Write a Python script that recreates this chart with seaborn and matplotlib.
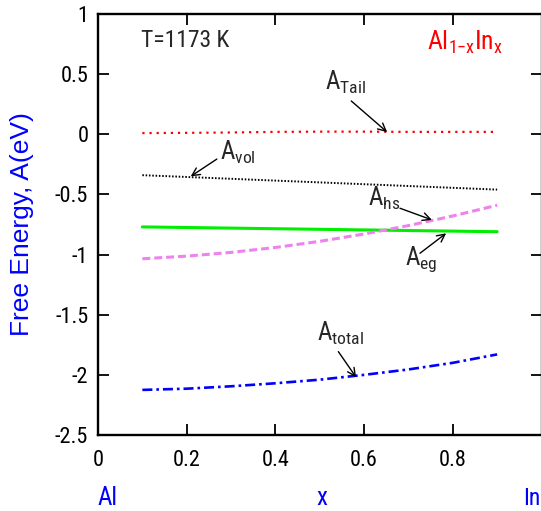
import matplotlib
matplotlib.use("Agg")
import matplotlib.pyplot as plt
import seaborn as sns
import numpy as np
import pandas as pd

# ---- data ----
x = [0.1, 0.2, 0.3, 0.4, 0.5, 0.6, 0.7, 0.8, 0.9]
a_tail = [0.010, 0.012, 0.015, 0.020, 0.022, 0.022, 0.020, 0.020, 0.020]
a_vol = [-0.340, -0.355, -0.370, -0.385, -0.400, -0.415, -0.430, -0.445, -0.460]
a_eg = [-0.770, -0.775, -0.780, -0.785, -0.790, -0.795, -0.800, -0.805, -0.810]
a_hs = [-1.035, -1.013, -0.982, -0.941, -0.890, -0.829, -0.759, -0.679, -0.590]
a_total = [-2.125, -2.115, -2.095, -2.070, -2.040, -2.000, -1.955, -1.900, -1.830]
xticks = [0, 0.2, 0.4, 0.6, 0.8]
xticklabels = ["0", "0.2", "0.4", "0.6", "0.8"]
yticks = [1, 0.5, 0, -0.5, -1, -1.5, -2, -2.5]
yticklabels = ["1", "0.5", "0", "-0.5", "-1", "-1.5", "-2", "-2.5"]

sns.set_theme(style="ticks")
NARROW = ["Roboto Condensed", "Liberation Sans", "DejaVu Sans"]
plt.rcParams["font.family"] = NARROW
plt.rcParams["axes.unicode_minus"] = False
plt.rcParams["mathtext.fontset"] = "custom"
plt.rcParams["mathtext.rm"] = "Roboto Condensed"
plt.rcParams["mathtext.it"] = "Roboto Condensed"
plt.rcParams["mathtext.default"] = "rm"

fig = plt.figure(figsize=(5.41, 5.11), dpi=100)
ax = fig.add_axes([98 / 541, 76 / 511, 443.5 / 541, 421 / 511])

df = pd.DataFrame({"x": x, "tail": a_tail, "vol": a_vol, "eg": a_eg,
                   "hs": a_hs, "total": a_total})

sns.lineplot(data=df, x="x", y="tail", ax=ax, color="#ff0000", lw=1.6)
sns.lineplot(data=df, x="x", y="vol", ax=ax, color="black", lw=1.4)
sns.lineplot(data=df, x="x", y="eg", ax=ax, color="#00ee00", lw=2.2)
sns.lineplot(data=df, x="x", y="hs", ax=ax, color="#ee82ee", lw=2.2)
sns.lineplot(data=df, x="x", y="total", ax=ax, color="#0000ff", lw=1.9)
lines = ax.get_lines()
lines[0].set_dashes((1.0, 2.2))
lines[1].set_dashes((0.8, 0.9))
lines[3].set_dashes((2.6, 1.3))
lines[4].set_dashes((3.8, 1.5, 1.0, 1.5))

ax.set_xlim(0, 1)
ax.set_ylim(-2.5, 1)
ax.set_xticks(xticks)
ax.set_xticklabels(xticklabels)
ax.set_yticks(yticks)
ax.set_yticklabels(yticklabels)
ax.tick_params(direction="in", length=8, width=1.3, top=True, right=True,
               labelsize=16, colors="black")
ax.tick_params(axis="x", pad=11)
ax.tick_params(axis="y", pad=7)
for s in ax.spines.values():
    s.set_linewidth(1.7)
    s.set_color("black")

ax.set_xlabel("")
ax.set_ylabel("Free Energy, A(eV)", color="#0000ff", fontsize=19,
              family=["Liberation Sans", "DejaVu Sans"])
ax.yaxis.set_label_coords(-0.145, 0.5)

# bottom labels
ax.text(0.504, -3.08, "x", color="#0000ff", fontsize=18, ha="center", va="baseline", clip_on=False)
ax.text(0.0215, -3.08, "Al", color="#0000ff", fontsize=18, ha="center", va="baseline", clip_on=False)
ax.text(0.958, -3.08, "In", color="#0000ff", fontsize=17, ha="left", va="baseline", clip_on=False)

ax.text(0.098, 0.78, "T=1173 K", fontsize=17, ha="left", va="center")
ax.text(0.741, 0.76, r"Al$_{1\mathrm{-}x}$In$_{x}$", color="#ff0000", fontsize=18.5,
        ha="left", va="center")

arrow = dict(arrowstyle="->", color="black", lw=1.0, mutation_scale=14, shrinkA=0, shrinkB=0)
ax.annotate("", xy=(0.652, 0.018), xytext=(0.571, 0.277), arrowprops=arrow)
ax.text(0.512, 0.43, r"A$_{\mathrm{Tail}}$", fontsize=18, ha="left", va="center")
ax.annotate("", xy=(0.209, -0.35), xytext=(0.268, -0.206), arrowprops=arrow)
ax.text(0.275, -0.15, r"A$_{\mathrm{vol}}$", fontsize=18, ha="left", va="center")
ax.annotate("", xy=(0.753, -0.712), xytext=(0.681, -0.615), arrowprops=arrow)
ax.text(0.609, -0.535, r"A$_{\mathrm{hs}}$", fontsize=18, ha="left", va="center")
ax.annotate("", xy=(0.785, -0.823), xytext=(0.726, -0.989), arrowprops=arrow)
ax.text(0.6925, -1.035, r"A$_{\mathrm{eg}}$", fontsize=18, ha="left", va="center")
ax.annotate("", xy=(0.582, -2.02), xytext=(0.542, -1.807), arrowprops=arrow)
ax.text(0.493, -1.655, r"A$_{\mathrm{total}}$", fontsize=18, ha="left", va="center")

fig.savefig("out.png", dpi=100)
